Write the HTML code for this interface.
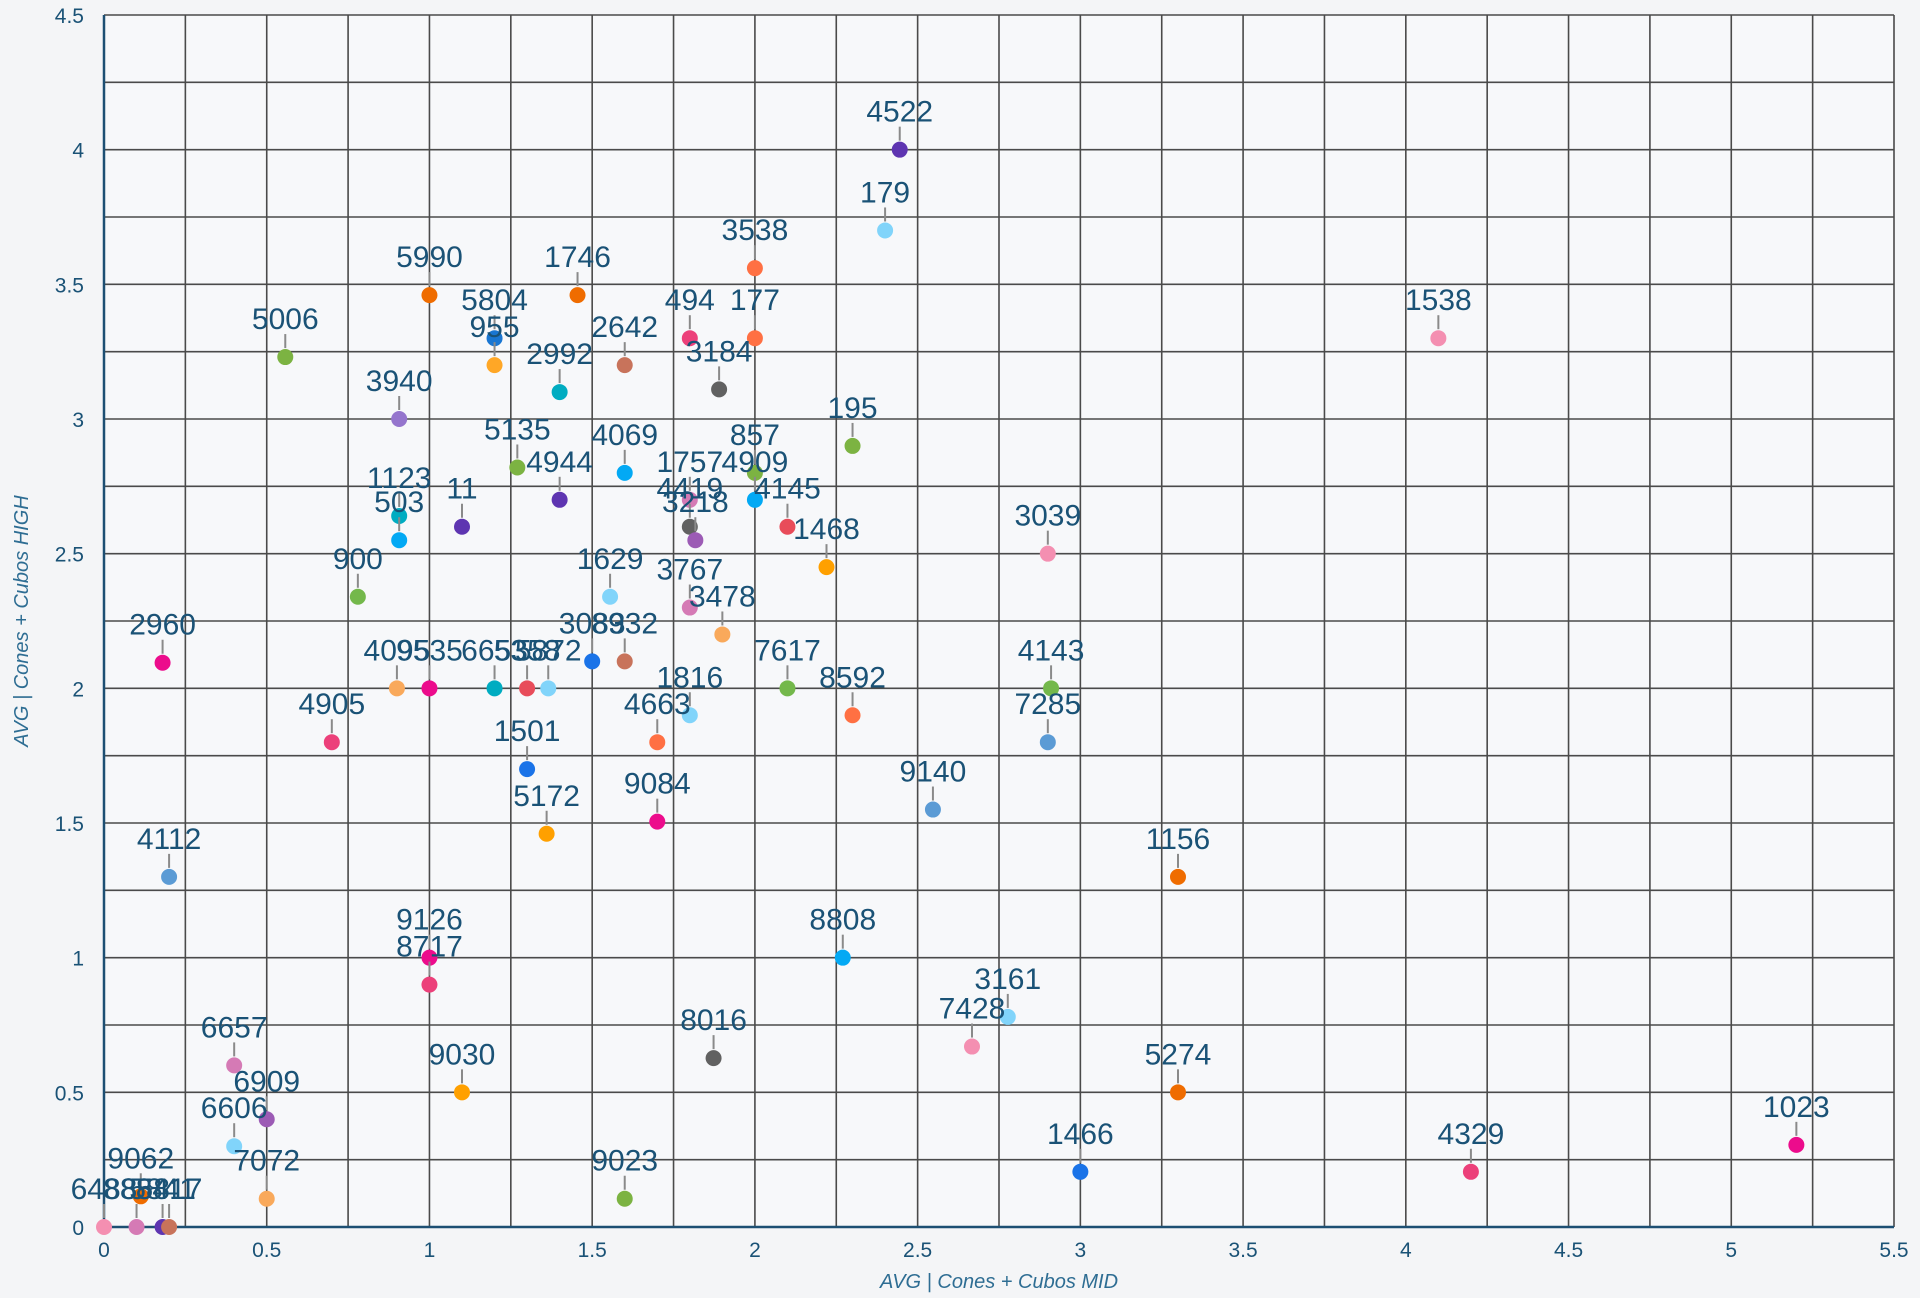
<!DOCTYPE html>
<html><head><meta charset="utf-8"><style>
html,body{margin:0;padding:0;background:#f4f5f7;}
svg{display:block;font-family:"Liberation Sans",sans-serif;}
</style></head><body>
<svg id="chart" width="1920" height="1298" viewBox="0 0 1920 1298" xmlns="http://www.w3.org/2000/svg">
<rect x="0" y="0" width="1920" height="1298" fill="#f4f5f7"/>
<rect x="104" y="15" width="1790" height="1212" fill="#f7f8fa"/>
<g id="grid"></g>
<g id="ticks"></g>
<g id="points"></g>
<text x="999" y="1288" text-anchor="middle" font-size="20" font-style="italic" fill="#2e6d93">AVG | Cones + Cubos MID</text>
<text transform="translate(28,621) rotate(-90)" text-anchor="middle" font-size="20" font-style="italic" fill="#2e6d93">AVG | Cones + Cubos HIGH</text>
</svg>
<script>
const labels=["4522","179","3538","1538","5990","1746","494","177","5804","955","2642","5006","2992","3184","3940","195","5135","4069","857","1757","4909","4944","4145","4419","3218","1123","503","11","1468","3039","900","1629","3767","3478","2960","3083","8932","4095","9535","6653","5358","5872","7617","8592","1816","4143","7285","4905","4663","1501","9140","9084","5172","4112","1156","9126","8717","8808","3161","7428","8016","5274","9030","6657","6909","6606","7072","9023","1466","4329","1023","9062","6488","8858","5841","8417"];
const xVals=[2.445,2.40,2.0,4.10,1.0,1.455,1.80,2.0,1.20,1.20,1.60,0.557,1.40,1.89,0.907,2.30,1.27,1.60,2.0,1.80,2.0,1.40,2.10,1.80,1.817,0.907,0.907,1.10,2.22,2.90,0.78,1.555,1.80,1.90,0.18,1.50,1.60,0.90,1.0,1.20,1.30,1.365,2.10,2.30,1.80,2.91,2.90,0.70,1.70,1.30,2.547,1.70,1.36,0.20,3.30,1.0,1.0,2.27,2.777,2.667,1.873,3.30,1.10,0.40,0.50,0.40,0.50,1.60,3.0,4.20,5.20,0.113,0,0.1,0.18,0.2];
const yVals=[4.0,3.70,3.56,3.30,3.46,3.46,3.30,3.30,3.30,3.20,3.20,3.23,3.10,3.11,3.0,2.90,2.82,2.80,2.80,2.70,2.70,2.70,2.60,2.60,2.55,2.64,2.55,2.60,2.45,2.50,2.34,2.34,2.30,2.20,2.095,2.10,2.10,2.0,2.0,2.0,2.0,2.0,2.0,1.90,1.90,2.0,1.80,1.80,1.80,1.70,1.55,1.505,1.46,1.30,1.30,1.0,0.90,1.0,0.78,0.67,0.627,0.50,0.50,0.60,0.40,0.30,0.105,0.105,0.205,0.205,0.305,0.114,0,0,0,0];
const colors=["#5e35b1","#81d4fa","#ff7043","#f48fb1","#ef6c00","#ef6c00","#ec407a","#ff7043","#1976d2","#ffa726","#c8735b","#7cb342","#00acc1","#616161","#9575cd","#7cb342","#7cb342","#03a9f4","#7cb342","#d57ab5","#03a9f4","#5e35b1","#e84c5a","#616161","#9c5bb5","#00acc1","#03a9f4","#5e35b1","#ffa000","#f48fb1","#74b84b","#81d4fa","#d57ab5","#f9a95b","#ec0c8c","#1a73e8","#c8735b","#f9a95b","#ec0c8c","#00acc1","#e84c5a","#81d4fa","#74b84b","#ff7043","#81d4fa","#74b84b","#5b9bd5","#ec407a","#ff7043","#1a73e8","#5b9bd5","#ec0c8c","#ffa000","#5b9bd5","#ef6c00","#ec0c8c","#ec407a","#03a9f4","#81d4fa","#f48fb1","#616161","#ef6c00","#ffa000","#d57ab5","#9c5bb5","#81d4fa","#f9a95b","#7cb342","#1a73e8","#ec407a","#ec0c8c","#ef6c00","#f48fb1","#d57ab5","#5e35b1","#c8735b"];
const xTicks=["0","0.5","1","1.5","2","2.5","3","3.5","4","4.5","5","5.5"];
const yTicks=["0","0.5","1","1.5","2","2.5","3","3.5","4","4.5"];
const NS="http://www.w3.org/2000/svg";
const X0=104,X1=1894,Y0=1227,Y1=15;
function sx(v){return X0+(v/5.5)*(X1-X0);}
function sy(v){return Y0-(v/4.5)*(Y0-Y1);}
function mk(tag,attrs,parent){const e=document.createElementNS(NS,tag);for(const k in attrs)e.setAttribute(k,attrs[k]);parent.appendChild(e);return e;}
const grid=document.getElementById('grid'),ticks=document.getElementById('ticks'),pts=document.getElementById('points');
for(let v=0;v<=5.5001;v+=0.25){const l=mk('line',{x1:sx(v),x2:sx(v),y1:Y1,y2:Y0,stroke:'#4a4a4a','stroke-width':1.6},grid);

}
for(let v=0;v<=4.5001;v+=0.25){const l=mk('line',{x1:X0,x2:X1,y1:sy(v),y2:sy(v),stroke:'#4a4a4a','stroke-width':1.6},grid);

}
const ax=mk('line',{x1:X0,x2:X1,y1:Y0,y2:Y0,stroke:'#1d4f73','stroke-width':2.5},grid);


const ay=mk('line',{x1:X0,x2:X0,y1:Y1,y2:Y0,stroke:'#1d4f73','stroke-width':2.5},grid);


xTicks.forEach(t=>{const e=mk('text',{x:sx(parseFloat(t)),y:1257,'text-anchor':'middle','font-size':21,fill:'#1a5276'},ticks);e.textContent=t;

});
yTicks.forEach(t=>{const e=mk('text',{x:84,y:sy(parseFloat(t))+8,'text-anchor':'end','font-size':21,fill:'#1a5276'},ticks);e.textContent=t;

});
labels.forEach((lab,i)=>{const cx=sx(xVals[i]),cy=sy(yVals[i]);
const ln=mk('line',{x1:cx,x2:cx,y1:cy-9,y2:cy-23,stroke:'#8a8a8a','stroke-width':2},pts);


const c=mk('circle',{cx:cx,cy:cy,r:8,fill:colors[i]},pts);


const t=mk('text',{x:cx,y:cy-28,'text-anchor':'middle','font-size':30,fill:'#1a5276'},pts);t.textContent=lab;

});
</script>
</body></html>
